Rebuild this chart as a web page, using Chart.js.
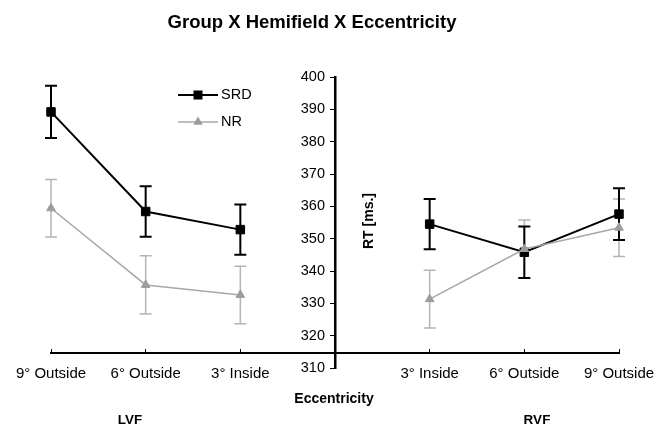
<!DOCTYPE html>
<html><head><meta charset="utf-8">
<script src="https://cdn.jsdelivr.net/npm/chart.js@4/dist/chart.umd.min.js"></script>
<style>
html,body{margin:0;padding:0;background:#fff;}
#wrap{position:relative;width:665px;height:425px;font-family:"Liberation Sans",Arial,sans-serif;color:#000;overflow:hidden;}
canvas{position:absolute;left:0;top:0;}
.t{position:absolute;transform:translate(-50%,-50%);white-space:nowrap;line-height:1;font-weight:bold;}
</style></head><body>
<div id="wrap">
<canvas id="c" width="665" height="425"></canvas>
<div class="t" style="left:312px;top:21.5px;font-size:18.5px">Group X Hemifield X Eccentricity</div>
<div class="t" style="left:334px;top:398px;font-size:14px">Eccentricity</div>
<div class="t" style="left:130px;top:419.5px;font-size:13.5px">LVF</div>
<div class="t" style="left:537px;top:419.5px;font-size:13.5px">RVF</div>
<div class="t" style="left:368px;top:221px;font-size:14px;transform:translate(-50%,-50%) rotate(-90deg)">RT [ms.]</div>
</div>
<script>
// ---- data ----
const categories = ["9° Outside", "6° Outside", "3° Inside", "", "3° Inside", "6° Outside", "9° Outside"];
const srdMeans  = [389.2, 358.4, 352.8, null, 354.5, 345.8, 357.6];
const srdErrors = [8.1, 7.8, 7.8, null, 7.8, 8.0, 8.0];
const nrMeans   = [359.4, 335.7, 332.6, null, 331.3, 346.8, 353.4];
const nrErrors  = [8.9, 9.0, 8.9, null, 8.9, 9.0, 8.9];
const yMin = 310, yMax = 400, yStep = 10;
const xAxisCross = 314.7;

const errorBars = {
  id: 'errorBars',
  beforeDatasetsDraw(chart) {
    const ctx = chart.ctx, xs = chart.scales.x, ys = chart.scales.y;
    const order = chart.data.datasets.map((d, i) => i).reverse();
    order.forEach(i => {
      const ds = chart.data.datasets[i];
      ds.data.forEach((v, j) => {
        const e = ds.errors[j];
        if (v == null || e == null) return;
        const px = xs.getPixelForValue(j);
        const top = ys.getPixelForValue(v + e), bot = ys.getPixelForValue(v - e);
        const cap = 6;
        ctx.save();
        ctx.strokeStyle = ds.errorColor;
        ctx.lineWidth = ds.errorWidth;
        ctx.beginPath();
        ctx.moveTo(px, top); ctx.lineTo(px, bot);
        ctx.moveTo(px - cap, top); ctx.lineTo(px + cap, top);
        ctx.moveTo(px - cap, bot); ctx.lineTo(px + cap, bot);
        ctx.stroke();
        ctx.restore();
      });
    });
  }
};

const legendBox = {
  id: 'legendBox',
  afterDatasetsDraw(chart) {
    const ctx = chart.ctx, a = chart.chartArea;
    const x0 = a.left + 127, x1 = x0 + 40, cx = (x0 + x1) / 2;
    chart.data.datasets.forEach((ds, i) => {
      const yy = a.top + 18 + i * 27;
      ctx.save();
      ctx.strokeStyle = ds.borderColor;
      ctx.lineWidth = ds.borderWidth;
      ctx.beginPath(); ctx.moveTo(x0, yy); ctx.lineTo(x1, yy); ctx.stroke();
      ctx.fillStyle = ds.pointBackgroundColor;
      if (ds.pointStyle === 'rect') {
        ctx.fillRect(cx - 4.5, yy - 4.5, 9, 9);
      } else {
        const r = 5.5;
        ctx.beginPath();
        ctx.moveTo(cx, yy - r);
        ctx.lineTo(cx + r * 0.866, yy + r * 0.5);
        ctx.lineTo(cx - r * 0.866, yy + r * 0.5);
        ctx.closePath(); ctx.fill();
      }
      ctx.fillStyle = '#000';
      ctx.font = '14.5px "Liberation Sans", Arial, sans-serif';
      ctx.textBaseline = 'middle';
      ctx.textAlign = 'left';
      ctx.fillText(ds.label, x1 + 3, yy);
      ctx.restore();
    });
  }
};

new Chart(document.getElementById('c'), {
  type: 'line',
  data: {
    labels: categories,
    datasets: [
      { label: 'SRD', data: srdMeans, errors: srdErrors, borderColor: '#000', backgroundColor: '#000',
        borderWidth: 2, pointStyle: 'rect', pointRadius: 6, pointBackgroundColor: '#000',
        pointBorderColor: '#000', pointBorderWidth: 1, order: 1, errorColor: '#000', errorWidth: 2,
        spanGaps: false, tension: 0 },
      { label: 'NR', data: nrMeans, errors: nrErrors, borderColor: '#a8a8a8', backgroundColor: '#9a9a9a',
        borderWidth: 1.5, pointStyle: 'triangle', pointRadius: 5, pointBackgroundColor: '#9c9c9c',
        pointBorderColor: '#9c9c9c', pointBorderWidth: 1, order: 0, errorColor: '#b4b4b4', errorWidth: 1.5,
        spanGaps: false, tension: 0 }
    ]
  },
  options: {
    responsive: false, animation: false, devicePixelRatio: 1,
    layout: { padding: { left: 51, right: 46, top: 77, bottom: 57 } },
    plugins: { legend: { display: false }, title: { display: false }, tooltip: { enabled: false } },
    scales: {
      x: {
        type: 'category', offset: false, position: { y: xAxisCross },
        grid: { drawOnChartArea: false, drawTicks: true, tickLength: -5, color: '#000', lineWidth: 1 },
        border: { display: true, color: '#000', width: 2 },
        ticks: { autoSkip: false, maxRotation: 0, minRotation: 0, padding: 17, color: '#000',
                 font: { family: '"Liberation Sans", Arial, sans-serif', size: 15 } },
        afterFit(s) { s.height = 0; s.paddingLeft = 0; s.paddingRight = 0; }
      },
      y: {
        type: 'linear', min: yMin, max: yMax, position: 'center',
        ticks: { stepSize: yStep, padding: 6, color: '#000',
                 font: { family: '"Liberation Sans", Arial, sans-serif', size: 14.5 } },
        grid: { drawOnChartArea: false, tickLength: 4, color: '#000', lineWidth: 1 },
        border: { display: true, color: '#000', width: 2.5 },
        afterFit(s) { s.width = 0; s.paddingTop = 0; s.paddingBottom = 0; }
      }
    }
  },
  plugins: [errorBars, legendBox]
});
</script>
</body></html>
